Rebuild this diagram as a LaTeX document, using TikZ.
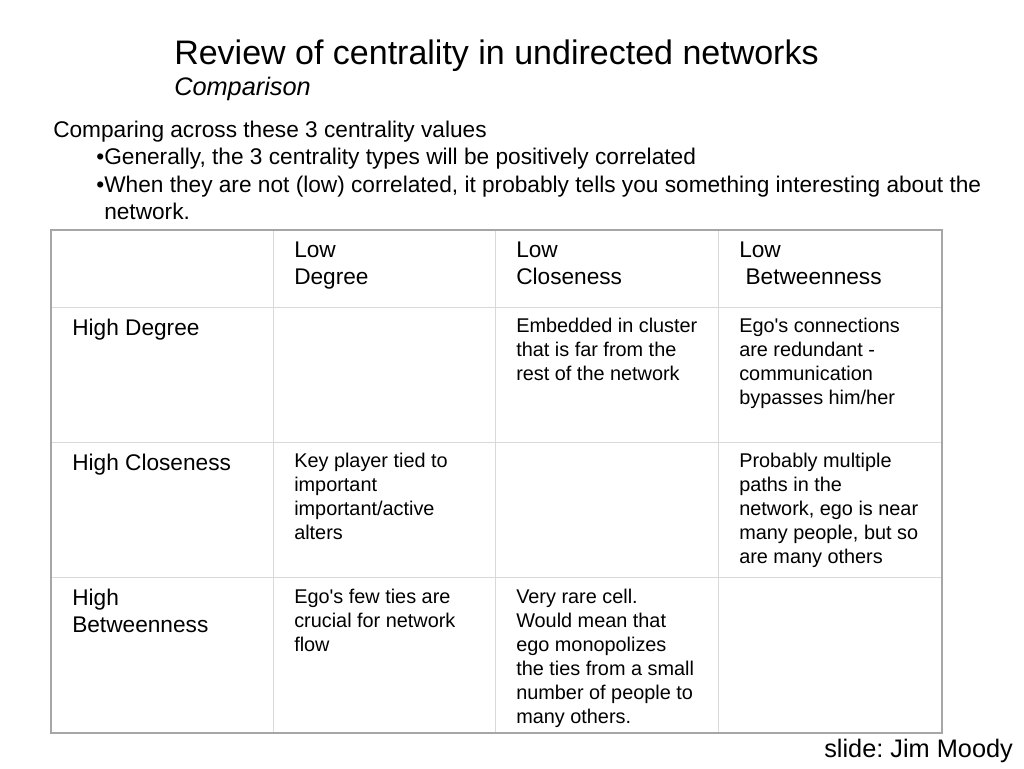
\documentclass[tikz,border=0pt]{standalone}
\usepackage{fontspec}
\setmainfont{Liberation Sans}[Ligatures=TeXOff]
\newcommand\mlines[1]{\vtop{\let\\\cr\halign{##\hfil\cr#1\crcr}}}
\begin{document}
\frenchspacing
\begin{tikzpicture}[x=0.75pt,y=-0.75pt,
  txt/.style={anchor=base west,inner sep=0pt,text=black},
  ttl/.style={txt,font=\fontsize{25.5}{30}\selectfont},
  sub/.style={txt,font=\fontsize{19}{22}\selectfont\itshape},
  body/.style={txt,font=\fontsize{17}{20.6}\selectfont},
  cell/.style={txt,font=\fontsize{14.9}{18}\selectfont},
  grid/.style={draw=black!15,line width=0.75pt},
  frame/.style={draw=black!35,line width=1.4pt}]
\useasboundingbox (0,0) rectangle (1024,768);
% title
\node[ttl] (title) at (174,64) {Review of centrality in undirected networks};
\node[sub] (subt) at (174,95) {Comparison};
% intro
\node[body] (l1) at (53,137) {Comparing across these 3 centrality values};
\node[body] (l2) at (104,164) {\llap{•}Generally, the 3 centrality types will be positively correlated};
\node[body] (l3) at (104,192) {\llap{•}When they are not (low) correlated, it probably tells you something interesting about the};
\node[body] (l4) at (104,219) {network.};
% table grid
\draw[grid] (273,230) -- (273,733) (495,230) -- (495,733) (718,230) -- (718,733);
\draw[grid] (51,307) -- (942,307) (51,442) -- (942,442) (51,577) -- (942,577);
\draw[frame] (51,230) rectangle (942,733);
% header
\node[body] (h1) at (294,257) {\mlines{Low\\Degree}};
\node[body] (h2) at (516,257) {\mlines{Low\\Closeness}};
\node[body] (h3) at (739,257) {\mlines{Low\\\ Betweenness}};
% row labels
\node[body] (r1) at (72,335) {High Degree};
\node[body] (r2) at (72,470) {High Closeness};
\node[body] (r3) at (72,605) {\mlines{High\\Betweenness}};
% cells
\node[cell] (c12) at (516,332) {\mlines{Embedded in cluster\\that is far from the\\rest of the network}};
\node[cell] (c13) at (739,332) {\mlines{Ego's connections\\are redundant -\\communication\\bypasses him/her}};
\node[cell] (c21) at (294,467) {\mlines{Key player tied to\\important\\important/active\\alters}};
\node[cell] (c23) at (739,467) {\mlines{Probably multiple\\paths in the\\network, ego is near\\many people, but so\\are many others}};
\node[cell] (c31) at (294,603) {\mlines{Ego's few ties are\\crucial for network\\flow}};
\node[cell] (c32) at (516,603) {\mlines{Very rare cell.\\Would mean that\\ego monopolizes\\the ties from a small\\number of people to\\many others.}};
% credit
\node[txt,font=\fontsize{19}{23}\selectfont] (credit) at (824,757) {slide: Jim Moody};
\end{tikzpicture}
\end{document}
